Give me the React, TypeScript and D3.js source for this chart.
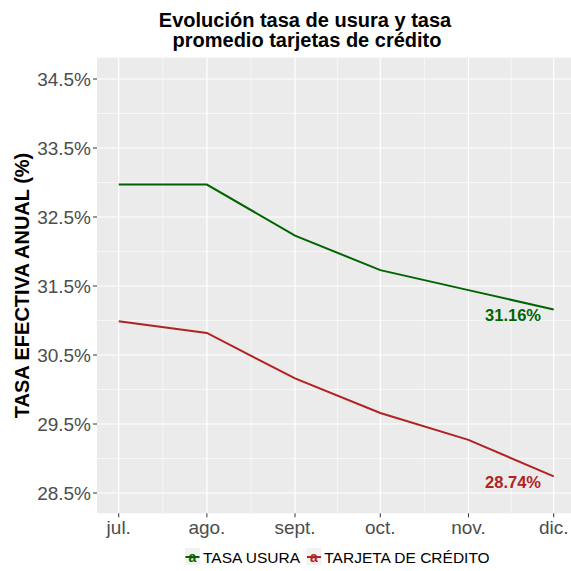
import React from "react";
import * as d3 from "d3";

const months = ["jul.", "ago.", "sept.", "oct.", "nov.", "dic."];
const monthDates = ["2023-07-01", "2023-08-01", "2023-09-01", "2023-10-01", "2023-11-01", "2023-12-01"];
const usura = [32.97, 32.97, 32.23, 31.73, 31.44, 31.16];
const tarjeta = [30.99, 30.82, 30.16, 29.66, 29.27, 28.74];
const yTicks = [28.5, 29.5, 30.5, 31.5, 32.5, 33.5, 34.5];
const yMinor = [29.0, 30.0, 31.0, 32.0, 33.0, 34.0];
const seriesNames = ["TASA USURA", "TARJETA DE CRÉDITO"];
const seriesColors = ["#006400", "#B22222"];

const W = 571;
const H = 571;
const FONT = "'Liberation Sans', Arial, Helvetica, sans-serif";

export default function App() {
  const parse = d3.timeParse("%Y-%m-%d");
  const dates = monthDates.map((d) => parse(d) as Date);
  const day = 24 * 3600 * 1000;
  const span = (dates[dates.length - 1].getTime() - dates[0].getTime()) / day;
  const pad = span * 0.05;
  const pxPerDay = 2.843;
  const left = 97;
  const x = d3
    .scaleTime()
    .domain([new Date(dates[0].getTime() - pad * day), new Date(dates[dates.length - 1].getTime() + pad * day)])
    .range([left, left + (span + 2 * pad) * pxPerDay]);

  const top = 57.7;
  const bottom = 513.3;
  const y = d3.scaleLinear().domain([28.5, 34.5]).range([493, 79]);
  const panelRight = W;

  const minorX = dates.slice(1).map((d, i) => new Date((d.getTime() + dates[i].getTime()) / 2));

  const line = d3
    .line<number>()
    .x((_, i) => x(dates[i]))
    .y((v) => y(v));

  const series = [usura, tarjeta];
  const lastX = x(dates[dates.length - 1]);

  return (
    <svg width={W} height={H} style={{ position: "absolute", left: 0, top: 0, background: "#fff" }} fontFamily={FONT}>
      <rect x={0} y={0} width={W} height={H} fill="#fff" />
      {/* title */}
      <text x={305} y={26.7} textAnchor="middle" fontSize={20} fontWeight="bold" fill="#000">
        Evolución tasa de usura y tasa
      </text>
      <text x={307} y={47} textAnchor="middle" fontSize={20} fontWeight="bold" fill="#000">
        promedio tarjetas de crédito
      </text>
      {/* panel */}
      <rect x={left} y={top} width={panelRight - left} height={bottom - top} fill="#EBEBEB" />
      {yMinor.map((t) => (
        <line key={"ym" + t} x1={left} x2={panelRight} y1={y(t)} y2={y(t)} stroke="#fff" strokeWidth={0.6} />
      ))}
      {minorX.map((d, i) => (
        <line key={"xm" + i} x1={x(d)} x2={x(d)} y1={top} y2={bottom} stroke="#fff" strokeWidth={0.6} />
      ))}
      {yTicks.map((t) => (
        <line key={"yg" + t} x1={left} x2={panelRight} y1={y(t)} y2={y(t)} stroke="#fff" strokeWidth={1.2} />
      ))}
      {dates.map((d, i) => (
        <line key={"xg" + i} x1={x(d)} x2={x(d)} y1={top} y2={bottom} stroke="#fff" strokeWidth={1.2} />
      ))}
      {series.map((s, i) => (
        <path key={"s" + i} d={line(s) || ""} fill="none" stroke={seriesColors[i]} strokeWidth={2} />
      ))}
      {/* end labels */}
      {series.map((s, i) => (
        <text
          key={"l" + i}
          x={lastX - 40.7}
          y={y(s[s.length - 1]) + 12}
          textAnchor="middle"
          fontSize={16.5}
          fontWeight="bold"
          fill={seriesColors[i]}
        >
          {s[s.length - 1].toFixed(2) + "%"}
        </text>
      ))}
      {/* y axis */}
      {yTicks.map((t) => (
        <g key={"yt" + t}>
          <line x1={left - 4} x2={left} y1={y(t)} y2={y(t)} stroke="#333" strokeWidth={1} />
          <text x={left - 6} y={y(t) + 7} textAnchor="end" fontSize={19} fill="#4D4D4D">
            {t.toFixed(1) + "%"}
          </text>
        </g>
      ))}
      {/* x axis */}
      {dates.map((d, i) => (
        <g key={"xt" + i}>
          <line x1={x(d)} x2={x(d)} y1={bottom} y2={bottom + 4} stroke="#333" strokeWidth={1} />
          <text x={x(d)} y={534} textAnchor="middle" fontSize={19} fill="#4D4D4D">
            {months[i]}
          </text>
        </g>
      ))}
      {/* y title */}
      <text
        transform={`translate(29,${(top + bottom) / 2}) rotate(-90)`}
        textAnchor="middle"
        fontSize={20}
        fontWeight="bold"
        fill="#000"
      >
        TASA EFECTIVA ANUAL (%)
      </text>
      {/* legend */}
      {[
        { kx: 185, tx: 203 },
        { kx: 306.5, tx: 324.3 },
      ].map((p, i) => (
        <g key={"lg" + i}>
          <rect x={p.kx} y={548} width={15} height={17} fill="#F2F2F2" />
          <line x1={p.kx + 0.5} x2={p.kx + 14.5} y1={557} y2={557} stroke={seriesColors[i]} strokeWidth={2} />
          <text x={p.kx + 7.5} y={562} textAnchor="middle" fontSize={14} fontWeight="bold" fill={seriesColors[i]}>
            a
          </text>
          <text x={p.tx} y={563} fontSize={15.5} fill="#000">
            {seriesNames[i]}
          </text>
        </g>
      ))}
    </svg>
  );
}
